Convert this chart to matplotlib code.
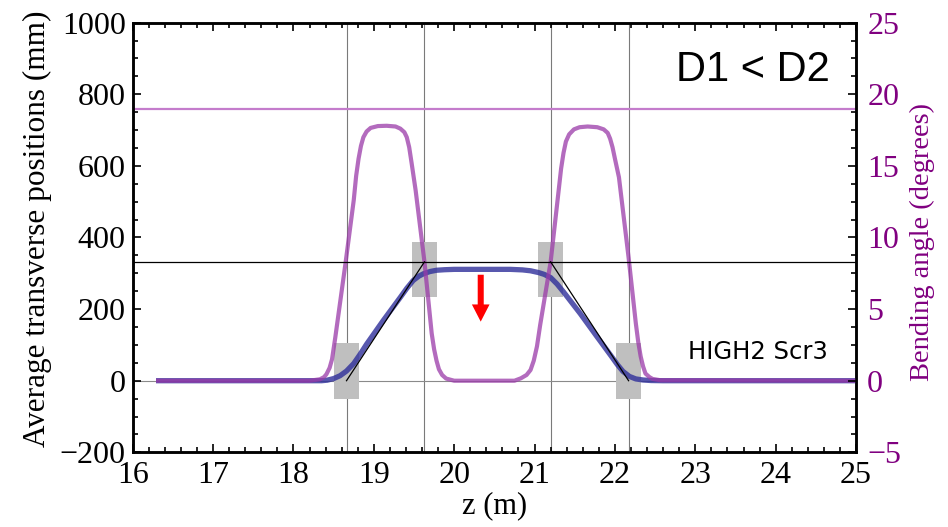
import numpy as np
import matplotlib
matplotlib.use('Agg')
import matplotlib.pyplot as plt
import matplotlib.patches as patches
from matplotlib.ticker import MultipleLocator

# average transverse position of the beam (mm) along z (m)
pos_z = [16.29, 18.35, 18.42, 18.50, 18.58, 18.66, 18.75, 18.83, 18.91, 19.12, 19.33,
         19.41, 19.49, 19.56, 19.62, 19.70, 19.78, 19.88, 20.00, 20.70, 20.85, 20.95,
         21.05, 21.12, 21.20, 21.28, 21.36, 21.57, 21.78, 21.95, 22.03, 22.10, 22.18,
         22.26, 22.35, 22.45, 22.60, 25.00]
pos_mm = [0, 0, 1.5, 6, 14, 27, 48, 74, 102, 169, 233,
          258, 280, 292, 299, 305, 308.5, 310, 311, 311, 309.5, 307,
          302, 297, 288, 270, 248, 187, 122, 70, 45, 26, 12,
          5, 2, 0.5, 0, 0]

# bending angle (degrees) along z
ang_z = [16.29, 18.20, 18.33, 18.38, 18.41, 18.45, 18.48, 18.52, 18.65, 18.75, 18.78,
         18.81, 18.84, 18.87, 18.91, 18.96, 19.05, 19.16, 19.27, 19.33, 19.38, 19.41,
         19.44, 19.47, 19.52, 19.63, 19.72, 19.75, 19.78, 19.81, 19.85, 19.90, 20.00,
         20.75, 20.83, 20.90, 20.95, 20.99, 21.03, 21.07, 21.20, 21.30, 21.33, 21.36,
         21.39, 21.43, 21.49, 21.56, 21.66, 21.78, 21.86, 21.91, 21.94, 21.97, 22.00,
         22.05, 22.17, 22.26, 22.29, 22.32, 22.35, 22.38, 22.43, 22.47, 22.57, 25.00]
ang_deg = [0, 0, 0.1, 0.25, 0.45, 0.9, 1.5, 3.0, 8.3, 12.6, 14.3,
           15.5, 16.4, 17.0, 17.4, 17.65, 17.78, 17.8, 17.75, 17.6, 17.35, 17.0,
           16.3, 15.2, 13.3, 8.3, 3.3, 2.2, 1.4, 0.8, 0.4, 0.15, 0,
           0, 0.17, 0.4, 0.75, 1.4, 2.4, 3.9, 8.3, 13.3, 14.8, 15.9,
           16.7, 17.2, 17.55, 17.7, 17.75, 17.7, 17.55, 17.3, 16.9, 16.3, 15.5,
           14.2, 8.6, 4.0, 2.7, 1.7, 1.0, 0.5, 0.25, 0.12, 0.03, 0]

# dipole edges and hard-edge reference trajectory
edges_z = [18.66, 19.63, 21.20, 22.17]
ref_mm = 332
ref_angle = 19.0
box_mm = [(-50, 104), (233, 388)]   # shaded boxes (low, high)
box_halfwidth = 0.155
arrow_z = 20.33
arrow_mm = (296, 165)

serif = 'Liberation Serif'
purple = '#800080'

fig = plt.figure(figsize=(9.48, 5.27), dpi=100)
ax = fig.add_axes([0.14, 0.1417, 0.763, 0.8153])
ax.set_xlim(16, 25)
ax.set_ylim(-200, 1000)

# thin lines at the magnet edges and at zero
for z in edges_z:
    ax.axvline(z, color='#7a7a7a', lw=0.8, zorder=1)
ax.axhline(0, color='#8a8a8a', lw=0.8, zorder=1)
ax.axhline(ref_mm, color='black', lw=0.9, zorder=4)
ax.axhline(ref_angle * 40, color='#c47ccc', lw=1.6, zorder=2)

# shaded boxes at the edges
for i, z in enumerate(edges_z):
    lo, hi = box_mm[0] if i in (0, 3) else box_mm[1]
    ax.add_patch(patches.Rectangle((z - box_halfwidth, lo), 2 * box_halfwidth, hi - lo,
                                   facecolor='#bfbfbf', edgecolor='none', zorder=1.5))

# hard-edge trajectory
ax.plot([edges_z[0], edges_z[1]], [0, ref_mm], color='black', lw=0.9, zorder=4)
ax.plot([edges_z[2], edges_z[3]], [ref_mm, 0], color='black', lw=0.9, zorder=4)

# beam position and bending angle (angle on the mm scale: 1 deg = 40 mm)
ax.plot(pos_z, pos_mm, color='#2e2e9a', lw=3.8, alpha=0.8, solid_capstyle='butt',
        solid_joinstyle='round', zorder=3)
ax.plot(ang_z, np.array(ang_deg) * 40, color='#9a3aa8', lw=3.0, alpha=0.75,
        solid_capstyle='butt', solid_joinstyle='round', zorder=3)

# red arrow
ax.arrow(arrow_z, arrow_mm[0], 0, arrow_mm[1] - arrow_mm[0], width=0.075,
         head_width=0.22, head_length=48, length_includes_head=True,
         color='red', lw=0, zorder=5)

ax.text(0.964, 0.89, 'D1 < D2', transform=ax.transAxes, ha='right', va='center',
        fontsize=30, family='Liberation Sans')
ax.text(0.961, 0.233, 'HIGH2 Scr3', transform=ax.transAxes, ha='right', va='center',
        fontsize=17.5, family='DejaVu Sans')

# ticks
ax.xaxis.set_major_locator(MultipleLocator(1))
ax.xaxis.set_minor_locator(MultipleLocator(0.2))
ax.yaxis.set_major_locator(MultipleLocator(200))
ax.yaxis.set_minor_locator(MultipleLocator(50))
ax.tick_params(which='both', direction='in', top=True, right=False, width=1.2)
ax.tick_params(which='major', length=6, labelsize=23)
ax.tick_params(axis='x', which='major', pad=6)
ax.tick_params(axis='y', which='major', pad=5)
ax.tick_params(which='minor', length=3.5)
for lab in ax.get_xticklabels() + ax.get_yticklabels():
    lab.set_family(serif)
for sp in ax.spines.values():
    sp.set_linewidth(1.8)

ax.set_xlabel('z (m)', family=serif, fontsize=22, labelpad=1)
ax.set_ylabel('Average transverse positions (mm)', family=serif, fontsize=22.5)
ax.yaxis.set_label_coords(-0.112, 0.52)

ax2 = ax.twinx()
ax2.set_ylim(-5, 25)
ax2.yaxis.set_major_locator(MultipleLocator(5))
ax2.yaxis.set_minor_locator(MultipleLocator(1.25))
ax2.tick_params(which='both', direction='in', width=1.2, colors='black', labelcolor=purple)
ax2.tick_params(which='major', length=6, labelsize=23, pad=8)
ax2.tick_params(which='minor', length=3.5)
for lab in ax2.get_yticklabels():
    lab.set_family(serif)
for sp in ax2.spines.values():
    sp.set_linewidth(1.8)
ax2.set_ylabel('Bending angle (degrees)', family=serif, fontsize=20.5, color=purple)
ax2.yaxis.set_label_coords(1.075, 0.49)

fig.savefig('out.png', dpi=100)
